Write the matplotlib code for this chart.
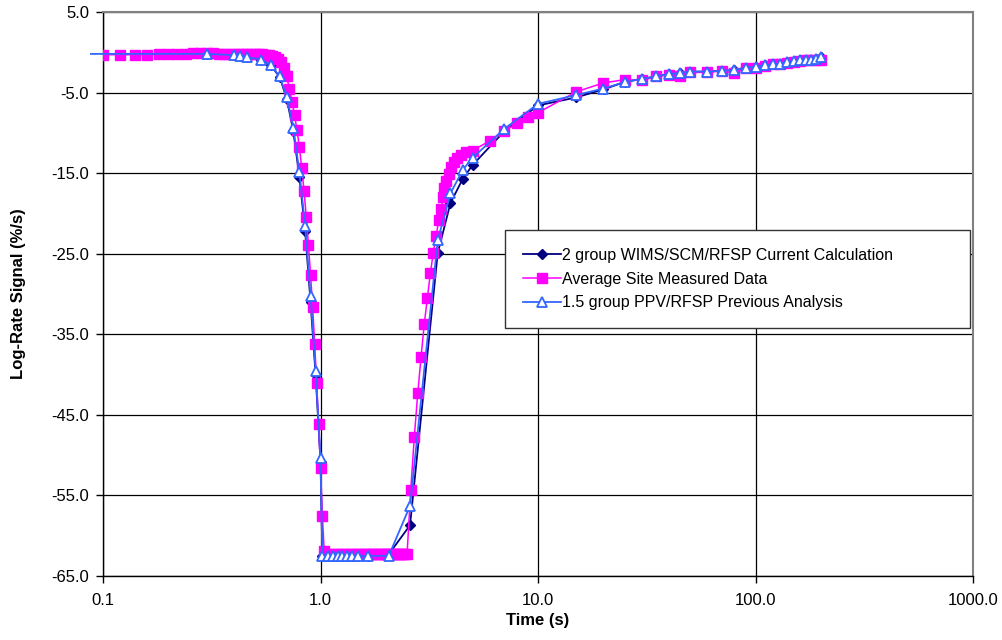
import numpy as np
import matplotlib
matplotlib.use("Agg")
import matplotlib.pyplot as plt

plt.rcParams['font.family'] = ['Liberation Sans', 'DejaVu Sans']

# 1.5 group PPV/RFSP previous analysis (triangles)
t_ppv = [0.088, 0.3, 0.4, 0.425, 0.46, 0.53, 0.59, 0.65, 0.7, 0.75, 0.8, 0.85, 0.9, 0.95, 1.0,
         1.02, 1.08, 1.14, 1.2, 1.26, 1.33, 1.4, 1.48, 1.65, 2.06,
         2.58, 3.46, 3.96, 4.51, 5.0, 7.0, 10, 15, 20, 25, 30, 35, 40, 45, 50,
         60, 70, 80, 90, 100, 110, 120, 130, 140, 150, 160, 170, 180, 190, 200]
y_ppv = [-0.2, -0.2, -0.35, -0.5, -0.6, -0.9, -1.6, -3.0, -5.6, -9.4, -14.9, -21.6, -30.2, -39.5, -50.3,
         -62.5, -62.5, -62.5, -62.5, -62.5, -62.5, -62.5, -62.5, -62.5, -62.5,
         -56.3, -23.3, -17.5, -14.6, -13.1, -9.5, -6.4, -5.3, -4.5, -3.7, -3.3, -3.0, -2.7, -2.55, -2.4,
         -2.4, -2.3, -2.2, -1.9, -1.8, -1.6, -1.5, -1.4, -1.2, -1.1, -1.0, -1.0, -0.9, -0.8, -0.6]

# 2 group WIMS/SCM/RFSP current calculation (diamonds)
t_wims = [0.3, 0.4, 0.425, 0.46, 0.53, 0.59, 0.65, 0.7, 0.75, 0.8, 0.85, 0.9, 0.95, 1.0,
          1.02, 1.08, 1.14, 1.2, 1.26, 1.33, 1.4, 1.48, 1.65, 2.06,
          2.58, 3.46, 3.96, 4.51, 5.0, 7.0, 10, 15, 20, 25, 30, 35, 40, 45, 50,
          60, 70, 80, 90, 100, 110, 120, 130, 140, 150, 160, 170, 180, 190, 200]
y_wims = [-0.2, -0.35, -0.5, -0.6, -0.9, -1.6, -3.1, -5.8, -9.8, -15.5, -22.2, -31.0, -40.1, -50.8,
          -62.5, -62.5, -62.5, -62.5, -62.5, -62.5, -62.5, -62.5, -62.5, -62.3,
          -58.7, -24.9, -18.7, -15.7, -14.0, -9.8, -6.6, -5.6, -4.6, -3.7, -3.3, -3.0, -2.7, -2.55, -2.4,
          -2.4, -2.3, -2.2, -1.9, -1.8, -1.6, -1.5, -1.4, -1.2, -1.1, -1.0, -1.0, -0.9, -0.8, -0.6]

# average site measured data (squares)
t_meas = [0.10, 0.12, 0.14, 0.16, 0.18, 0.20, 0.22, 0.24, 0.26, 0.28, 0.30, 0.32, 0.34, 0.36,
          0.38, 0.40, 0.42, 0.44, 0.46, 0.48, 0.50, 0.52, 0.54, 0.56, 0.58, 0.60,
          0.62, 0.64, 0.66, 0.68, 0.70, 0.72, 0.74, 0.76, 0.78, 0.80, 0.82, 0.84, 0.86, 0.88,
          0.90, 0.92, 0.94, 0.96, 0.98, 1.00, 1.02, 1.04,
          1.06, 1.10, 1.15, 1.20, 1.25, 1.30, 1.35, 1.40, 1.45, 1.50, 1.55, 1.60, 1.65, 1.70,
          1.75, 1.80, 1.85, 1.90, 1.95, 2.00, 2.05, 2.10, 2.15, 2.20, 2.25, 2.30, 2.35, 2.40,
          2.45, 2.50,
          2.6, 2.7, 2.8, 2.9, 3.0, 3.1, 3.2, 3.3, 3.4, 3.5, 3.6, 3.65, 3.7, 3.78, 3.88, 4.0,
          4.1, 4.25, 4.43, 4.67, 5.0, 6, 7, 8, 9, 10, 15, 20, 25, 30, 35, 40, 45, 50,
          60, 70, 80, 90, 100, 110, 120, 130, 140, 150, 160, 170, 180, 190, 200]
y_meas = [-0.3, -0.3, -0.3, -0.3, -0.25, -0.2, -0.2, -0.2, -0.15, -0.15, -0.15, -0.15, -0.2, -0.2,
          -0.2, -0.2, -0.2, -0.2, -0.2, -0.2, -0.2, -0.25, -0.25, -0.3, -0.35, -0.4,
          -0.55, -0.8, -1.2, -1.9, -3.0, -4.6, -6.2, -7.8, -9.7, -11.8, -14.4, -17.2, -20.4, -23.9,
          -27.6, -31.6, -36.2, -41.0, -46.1, -51.6, -57.5, -61.9,
          -62.3, -62.3, -62.3, -62.3, -62.3, -62.3, -62.3, -62.3, -62.3, -62.3, -62.3, -62.3,
          -62.3, -62.3, -62.3, -62.3, -62.3, -62.3, -62.3, -62.3, -62.3, -62.3, -62.3, -62.3,
          -62.3, -62.3, -62.3, -62.3, -62.3, -62.3,
          -54.3, -47.7, -42.3, -37.8, -33.7, -30.5, -27.4, -24.9, -22.8, -20.8, -19.4, -18.0,
          -16.9, -16.0, -15.1, -14.2, -13.6, -13.1, -12.7, -12.4, -12.2, -11.0, -9.8, -8.8,
          -8.0, -7.5, -4.9, -3.8, -3.4, -3.5, -3.0, -2.8, -3.0, -2.5,
          -2.5, -2.3, -2.6, -2.0, -2.0, -1.7, -1.5, -1.4, -1.3, -1.2, -1.1, -1.0, -1.0, -0.9, -0.9]

y_ticks = [5, -5, -15, -25, -35, -45, -55, -65]
y_ticklabels = ['5.0', '-5.0', '-15.0', '-25.0', '-35.0', '-45.0', '-55.0', '-65.0']
x_ticks = [0.1, 1, 10, 100, 1000]
x_ticklabels = ['0.1', '1.0', '10.0', '100.0', '1000.0']

fig = plt.figure(figsize=(10.02, 6.4), dpi=100)
ax = fig.add_axes([103 / 1002, 64 / 640, 870 / 1002, 564 / 640])

ax.plot(t_wims, y_wims, color='#000080', lw=1.3, marker='D', ms=5.5,
        label='2 group WIMS/SCM/RFSP Current Calculation', zorder=3)
ax.plot(t_meas, y_meas, color='#FF00FF', lw=1.1, marker='s', ms=7.5, mec='#FF00FF',
        label='Average Site Measured Data', zorder=4)
ax.plot(t_ppv, y_ppv, color='#3366FF', lw=1.3, marker='^', ms=7.5, mfc='white',
        mec='#3366FF', mew=1.3, markevery=slice(1, None), clip_on=False,
        label='1.5 group PPV/RFSP Previous Analysis', zorder=5)

ax.set_xscale('log')
ax.set_xlim(0.1, 1000)
ax.set_ylim(-65, 5)
ax.set_xticks(x_ticks)
ax.set_xticklabels(x_ticklabels)
ax.xaxis.set_minor_locator(plt.NullLocator())
ax.set_yticks(y_ticks)
ax.set_yticklabels(y_ticklabels)
ax.tick_params(axis='both', direction='out', length=5, width=1, labelsize=12, color='black')
ax.tick_params(axis='x', pad=7)
ax.tick_params(axis='y', pad=5)

ax.grid(True, color='black', lw=0.9)
ax.set_axisbelow(True)
for side in ['top', 'right']:
    ax.spines[side].set_color('#808080')
    ax.spines[side].set_linewidth(1.5)
for side in ['left', 'bottom']:
    ax.spines[side].set_color('black')
    ax.spines[side].set_linewidth(1)

ax.set_xlabel('Time (s)', fontsize=12, fontweight='bold', labelpad=4)
ax.set_ylabel('Log-Rate Signal (%/s)', fontsize=12, fontweight='bold', labelpad=18)

leg = ax.legend(loc='upper left', bbox_to_anchor=(0.462, 0.44, 0.535, 0.173), mode='expand',
                fontsize=11.5, frameon=True, fancybox=False, borderpad=1.1,
                labelspacing=0.55, handlelength=2.4, handletextpad=0.1, borderaxespad=0)
leg.get_frame().set_edgecolor('#333333')
leg.get_frame().set_linewidth(1)
leg.get_frame().set_alpha(1)

fig.savefig('out.png', dpi=100)
